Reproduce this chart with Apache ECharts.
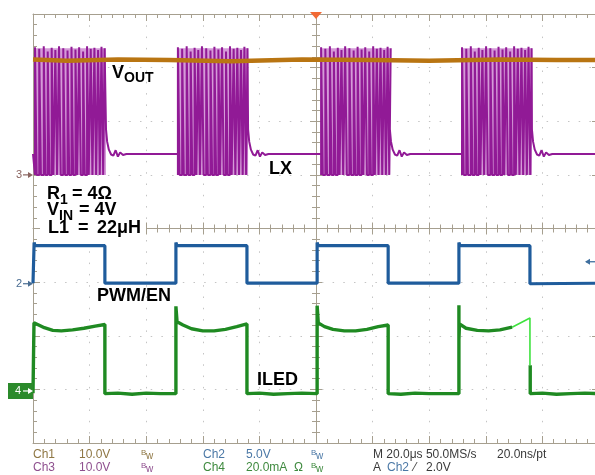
<!DOCTYPE html>
<html><head><meta charset="utf-8">
<script src="https://cdn.jsdelivr.net/npm/echarts@6.0.0/dist/echarts.min.js"></script>
<style>html,body{margin:0;padding:0;background:#fff;}#c{width:595px;height:475px;}</style>
</head><body><div id="c"></div>
<script>
// Time axis in microseconds (20 us/div, 10 div); vertical axis in divisions (0 = bottom, 8 = top)

// VOUT (Ch1)
const voutTime  = [0, 12, 30, 48, 70, 95, 120, 140, 165, 185, 200];
const voutLevel = [7.15, 7.13, 7.15, 7.14, 7.12, 7.15, 7.14, 7.13, 7.15, 7.14, 7.14];

// LX (Ch3)
const lxIdle = 5.39, lxLow = 5.0;
const burstStart = [0.7, 51.2, 101.8, 151.6];
const burstEnd   = [25.8, 76.0, 126.1, 176.3];
const pulseOffset = [0, 1.5, 3.1, 4.5, 5.9, 7.2, 8.5, 10.0, 11.5, 12.9, 14.3, 15.6, 17.0, 18.4, 19.7, 21.0, 22.3, 23.5, 24.6];
const pulseTop    = [7.38, 7.35, 7.4, 7.3, 7.37, 7.33, 7.4, 7.36, 7.32, 7.39, 7.34, 7.38, 7.3, 7.4, 7.35, 7.37, 7.33, 7.39, 7.36];
const pulseWidth = 0.6;
const ringOffset = [0, 0.4, 1.0, 1.8, 2.6, 3.4, 4.2, 5.0, 6.0, 7.2];
const ringLevel  = [5.85, 5.62, 5.47, 5.38, 5.36, 5.46, 5.34, 5.42, 5.37, 5.39];

// PWM/EN (Ch2)
const pwmTime  = [0, 0.4, 0.4, 0.7, 25.4, 25.4, 50.5, 50.5, 50.9, 75.6, 75.6, 100.4, 100.4, 100.8, 125.5, 125.5, 150.5, 150.5, 150.9, 175.6, 175.6, 200];
const pwmLevel = [2.98, 2.98, 3.74, 3.68, 3.68, 2.98, 2.98, 3.74, 3.68, 3.68, 2.98, 2.98, 3.74, 3.68, 3.68, 2.98, 2.98, 3.74, 3.68, 3.68, 2.97, 2.98];

// ILED (Ch4)
const ledTime  = [0, 0.35, 0.35, 2, 4, 7, 10, 14, 18, 22, 25.4, 25.4, 30, 35, 40, 45, 50.5, 50.5, 50.9, 53, 56, 60, 64, 68, 72, 75.6, 75.6, 80, 85, 90, 95, 100.4, 100.4, 100.8, 103, 106, 110, 114, 118, 122, 125.5, 125.5, 130, 135, 140, 145, 150.5, 150.5, 150.5, 150.7, 153, 157, 161, 165, 169.3, 169.4, 175.7, 175.7, 180, 185, 190, 195, 200];
const ledLevel = [0.93, 0.93, 2.24, 2.2, 2.15, 2.1, 2.09, 2.11, 2.14, 2.18, 2.21, 0.92, 0.93, 0.91, 0.93, 0.92, 0.92, 2.55, 2.26, 2.2, 2.13, 2.09, 2.09, 2.12, 2.17, 2.22, 0.92, 0.93, 0.91, 0.92, 0.93, 0.92, 2.56, 2.24, 2.17, 2.12, 2.09, 2.09, 2.12, 2.17, 2.2, 0.92, 0.91, 0.93, 0.92, 0.92, 0.92, 2.57, 1.92, 2.22, 2.14, 2.1, 2.09, 2.11, 2.16, null, 1.45, 0.92, 0.93, 0.91, 0.92, 0.93, 0.92];
const ledEditTime  = [169.3, 175.6, 175.6];
const ledEditLevel = [2.16, 2.33, 1.45];

// Ground markers and trigger
const markerLabel = ['3', '2', '4'];
const markerLevel = [5.0, 2.97, 0.97];
const triggerTime = 100, triggerLevel = 3.38;

const zip = (a, b) => a.map((t, i) => [t, b[i]]);

// build LX trace from burst edge times
const lxData = [[0, lxIdle]];
burstStart.forEach((s, i) => {
  lxData.push([s, lxIdle], [s, lxLow]);
  const n = pulseOffset.length;
  pulseOffset.forEach((o, j) => {
    const t = s + o;
    lxData.push([t, lxLow], [t, pulseTop[j]]);
    if (j < n - 1) lxData.push([t + pulseWidth, pulseTop[j]], [t + pulseWidth, lxLow]);
  });
  const e = burstEnd[i];
  lxData.push([e, pulseTop[n - 1]]);
  ringOffset.forEach((o, j) => lxData.push([e + o, ringLevel[j]]));
});
lxData.push([200, lxIdle]);

const border = '#a69f8f', gridC = '#c4c4c4';
function xAx(pos, offset, inside, len, minorLen, split, line) {
  return { type: 'value', min: 0, max: 200, interval: 20, position: pos, offset: offset,
    axisLabel: { show: false },
    axisLine: { show: line, onZero: false, lineStyle: { color: border, width: 1 } },
    axisTick: { show: true, inside: inside, length: len, lineStyle: { color: border } },
    minorTick: { show: true, splitNumber: 5, length: minorLen, lineStyle: { color: border } },
    splitLine: { show: split, lineStyle: { color: gridC, type: [1.5, 9.8] } },
    minorSplitLine: { show: false } };
}
function yAx(pos, offset, inside, len, minorLen, split, line) {
  return { type: 'value', min: 0, max: 8, interval: 1, position: pos, offset: offset,
    axisLabel: { show: false },
    axisLine: { show: line, onZero: false, lineStyle: { color: border, width: 1 } },
    axisTick: { show: true, inside: inside, length: len, lineStyle: { color: border } },
    minorTick: { show: true, splitNumber: 5, length: minorLen, lineStyle: { color: border } },
    splitLine: { show: split, lineStyle: { color: gridC, type: [1.5, 9.2] } },
    minorSplitLine: { show: false } };
}

const chart = echarts.init(document.getElementById('c'), null, { renderer: 'canvas' });
const option = {
  animation: false,
  backgroundColor: '#ffffff',
  grid: { left: 33, top: 14, width: 566, height: 429, containLabel: false, outerBoundsMode: 'none' },
  xAxis: [
    xAx('bottom', 0, true, 7, 4, true, true),
    xAx('top', 0, true, 7, 4, false, true),
    xAx('bottom', -214.5, true, 6, 4, false, true),
    xAx('bottom', -214.5, false, 6, 4, false, false)
  ],
  yAxis: [
    yAx('left', 0, true, 7, 4, true, true),
    yAx('right', 0, true, 7, 4, false, true),
    yAx('left', -283, true, 6, 4, false, true),
    yAx('left', -283, false, 6, 4, false, false)
  ],
  series: [
    { name: 'LX', type: 'line', data: lxData, showSymbol: false, symbol: 'none',
      lineStyle: { color: '#911a96', width: 2 }, z: 3,
      markArea: { silent: true, itemStyle: { color: '#d59bd8' },
        data: burstStart.map((s, i) => [{ coord: [s, lxLow] }, { coord: [burstEnd[i], 7.36] }]) } },
    { name: 'VOUT', type: 'line', data: zip(voutTime, voutLevel), showSymbol: false, symbol: 'none',
      lineStyle: { color: '#b97512', width: 4.5 }, z: 4 },
    { name: 'PWM/EN', type: 'line', data: zip(pwmTime, pwmLevel), showSymbol: false, symbol: 'none',
      lineStyle: { color: '#1f5c9c', width: 3.2 }, z: 4 },
    { name: 'ILED', type: 'line', data: zip(ledTime, ledLevel), showSymbol: false, symbol: 'none', connectNulls: false,
      lineStyle: { color: '#1f8a22', width: 3.4 }, z: 4 },
    { name: 'ILED edit', type: 'line', data: zip(ledEditTime, ledEditLevel), showSymbol: false, symbol: 'none',
      lineStyle: { color: '#3ee23e', width: 1.6 }, z: 5 }
  ]
};
chart.setOption(option);

const P = v => chart.convertToPixel({ xAxisIndex: 0, yAxisIndex: 0 }, v);
const g = [];
function txt(x, y, s, size, color, weight, extra) {
  g.push(Object.assign({ type: 'text', x: x, y: y, z: 100,
    style: { text: s, fill: color, font: (weight || 'normal') + ' ' + size + 'px "Liberation Sans", Arial, sans-serif',
      align: 'left', verticalAlign: 'middle' } }, extra || {}));
}
// white box behind the left annotation block
g.push({ type: 'rect', z: 90, shape: { x: 40, y: 182, width: 106, height: 60 }, style: { fill: '#ffffff' } });
// annotations
txt(112, 73, 'V', 18, '#000', 'bold');
txt(124, 78, 'OUT', 14, '#000', 'bold');
txt(269, 169, 'LX', 18, '#000', 'bold');
txt(47, 194, 'R', 18, '#000', 'bold');
txt(60, 200, '1', 14, '#000', 'bold');
txt(72, 194, '= 4Ω', 18, '#000', 'bold');
txt(47, 210.5, 'V', 18, '#000', 'bold');
txt(59, 216, 'IN', 14, '#000', 'bold');
txt(79, 210.5, '= 4V', 18, '#000', 'bold');
txt(48, 228.5, 'L1', 18, '#000', 'bold');
txt(78, 228.5, '=', 18, '#000', 'bold');
txt(97, 228.5, '22μH', 18, '#000', 'bold');
txt(97, 296.5, 'PWM/EN', 18, '#000', 'bold');
txt(257, 380.5, 'ILED', 18, '#000', 'bold');

// ground markers
const mColors = ['#8a6560', '#4a6d92', '#ffffff'];
markerLabel.forEach((m, i) => {
  const y = P([0, markerLevel[i]])[1];
  const x0 = P([0, 0])[0];
  if (i === 2) {
    g.push({ type: 'rect', z: 95, shape: { x: 8, y: y - 8, width: x0 - 8, height: 16 }, style: { fill: '#2b8a2b' } });
  }
  txt(i === 2 ? 15 : 16, y, m, 11, mColors[i], 'normal');
  const ac = i === 2 ? '#ffffff' : mColors[i];
  g.push({ type: 'line', z: 100, shape: { x1: 23, y1: y, x2: x0 - 2, y2: y }, style: { stroke: ac, lineWidth: 1.2 } });
  g.push({ type: 'polygon', z: 100, shape: { points: [[x0 - 5, y - 3], [x0, y], [x0 - 5, y + 3]] }, style: { fill: ac } });
});
// trigger position marker (top) and trigger level arrow (right)
const tp = P([triggerTime, 8]);
g.push({ type: 'polygon', z: 100, shape: { points: [[tp[0] - 6, tp[1] - 2], [tp[0] + 6, tp[1] - 2], [tp[0], tp[1] + 5]] }, style: { fill: '#f26a35' } });
const tl = P([195, triggerLevel]);
g.push({ type: 'line', z: 100, shape: { x1: 586, y1: tl[1], x2: 595, y2: tl[1] }, style: { stroke: '#3f6f9e', lineWidth: 1.3 } });
g.push({ type: 'polygon', z: 100, shape: { points: [[590, tl[1] - 3], [585, tl[1]], [590, tl[1] + 3]] }, style: { fill: '#3f6f9e' } });

// status bar
const r1 = 455, r2 = 468;
const c1 = '#8f7744', c3 = '#8e4f8e', c2 = '#4b78a6', c4 = '#3f8a3f', cm = '#3a3a3a';
txt(33, r1, 'Ch1', 12, c1); txt(79, r1, '10.0V', 12, c1);
txt(33, r2, 'Ch3', 12, c3); txt(79, r2, '10.0V', 12, c3);
function bw(x, y, c) { txt(x, y - 2, 'B', 8, c); txt(x + 5, y + 1, 'w', 10, c); }
bw(141, r1, c1); bw(141, r2, c3);
txt(203, r1, 'Ch2', 12, c2); txt(246, r1, '5.0V', 12, c2);
txt(203, r2, 'Ch4', 12, c4); txt(246, r2, '20.0mA  Ω', 12, c4);
bw(311, r1, c2); bw(311, r2, c4);
txt(373, r1, 'M 20.0μs 50.0MS/s', 12, cm);
txt(497, r1, '20.0ns/pt', 12, cm);
txt(373, r2, 'A', 12, cm); txt(387, r2, 'Ch2', 12, c2); txt(414, r2, '⁄', 12, cm); txt(426, r2, '2.0V', 12, cm);

chart.setOption({ graphic: g });
</script>
</body></html>
